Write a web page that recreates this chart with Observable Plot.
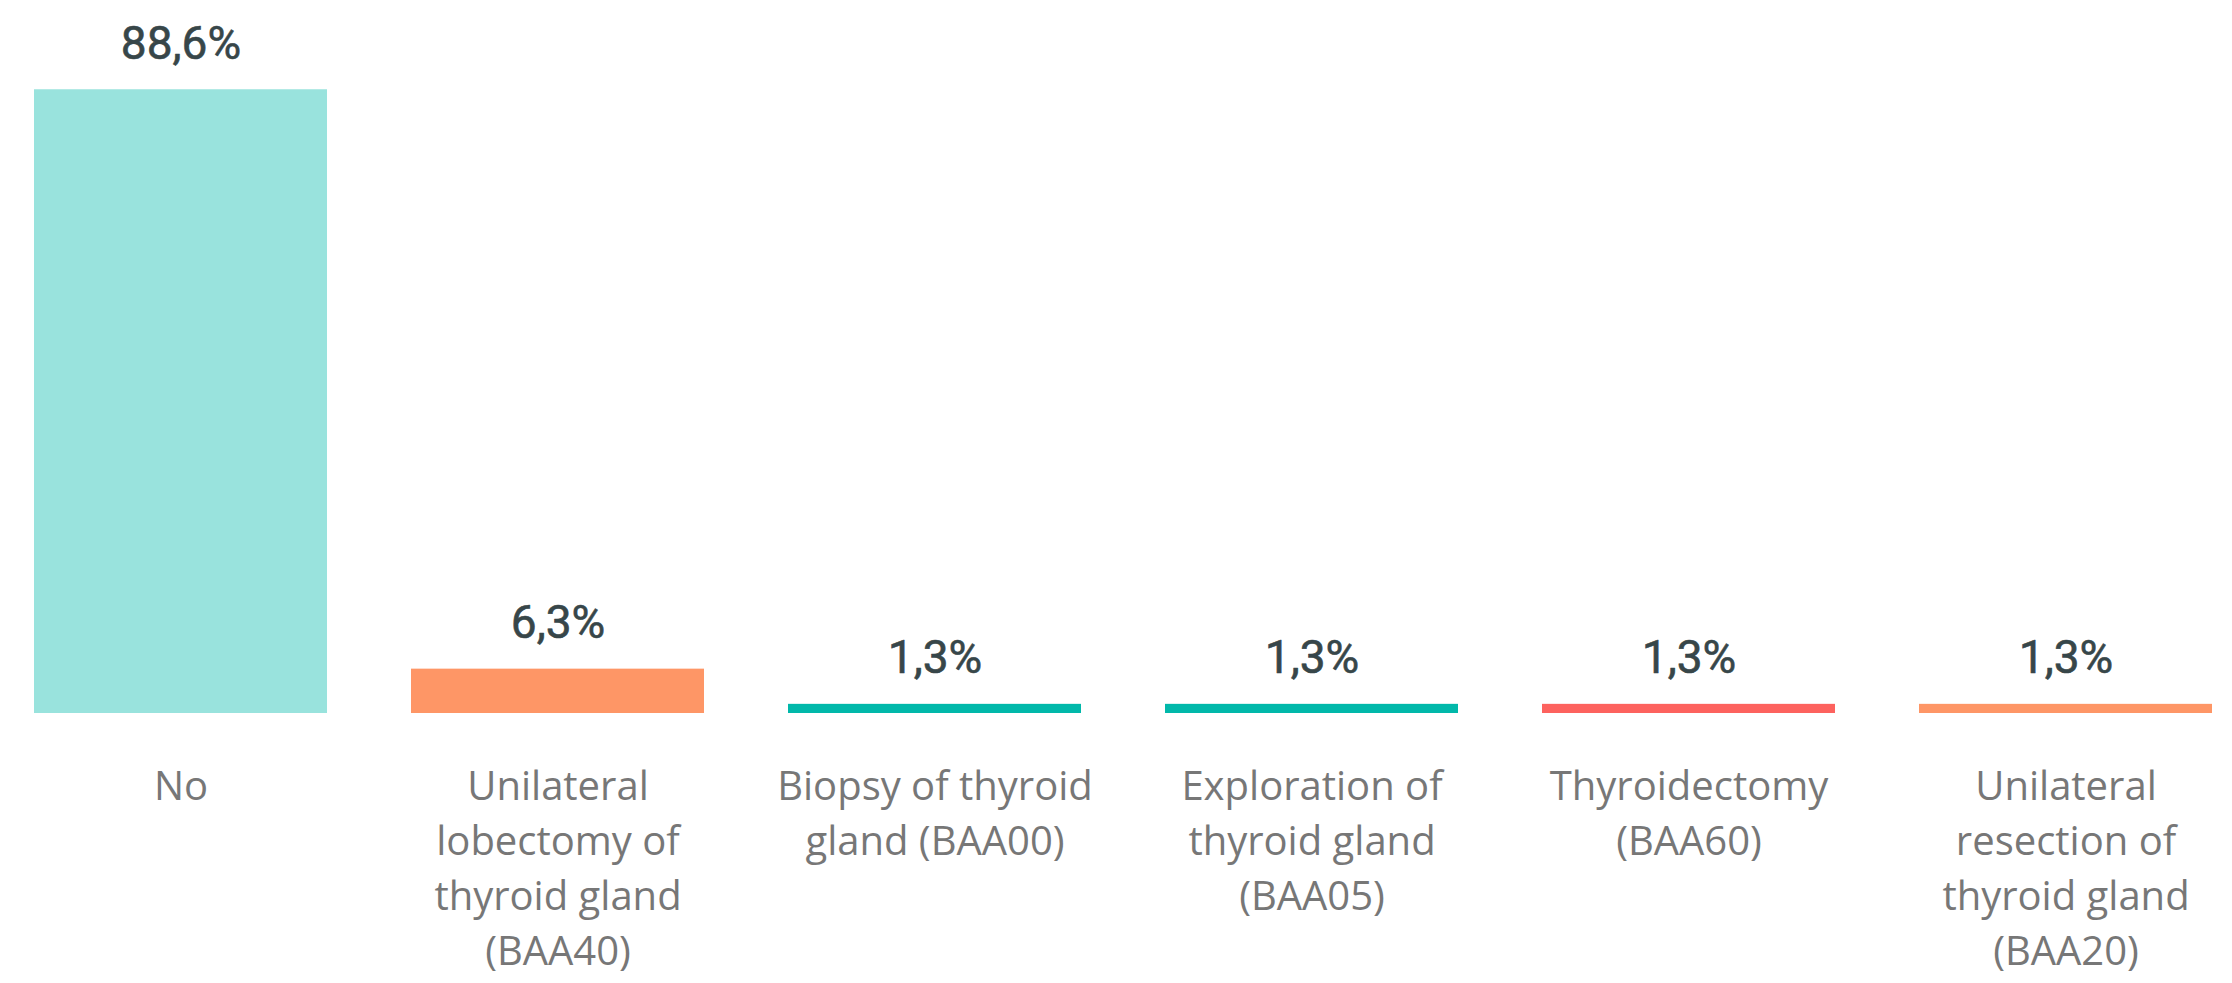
<!DOCTYPE html>
<html>
<head>
<meta charset="utf-8">
<script src="https://cdn.jsdelivr.net/npm/d3@7"></script>
<script src="https://cdn.jsdelivr.net/npm/@observablehq/plot@0.6"></script>
<style>
  html, body { margin: 0; padding: 0; background: #fff; }
</style>
</head>
<body>
<div id="chart"></div>
<script>
const categories = [
  "No",
  "Unilateral lobectomy of thyroid gland (BAA40)",
  "Biopsy of thyroid gland (BAA00)",
  "Exploration of thyroid gland (BAA05)",
  "Thyroidectomy (BAA60)",
  "Unilateral resection of thyroid gland (BAA20)"
];
const tickLabels = [
  "No",
  "Unilateral\nlobectomy of\nthyroid gland\n(BAA40)",
  "Biopsy of thyroid\ngland (BAA00)",
  "Exploration of\nthyroid gland\n(BAA05)",
  "Thyroidectomy\n(BAA60)",
  "Unilateral\nresection of\nthyroid gland\n(BAA20)"
];
const values = [88.6, 6.3, 1.3, 1.3, 1.3, 1.3];
const colors = ["#99E3DD", "#FE9666", "#01B8AA", "#01B8AA", "#FD625E", "#FE9666"];

const data = categories.map((c, i) => ({
  cat: c, label: tickLabels[i], value: values[i], color: colors[i]
}));

const fmt = v => v.toFixed(1).replace(".", ",") + "%";

const chart = Plot.plot({
  width: 2232,
  height: 983,
  marginLeft: 34,
  marginRight: 20,
  marginTop: 9,
  marginBottom: 270,
  x: { domain: categories, paddingInner: 0.223, paddingOuter: 0, axis: null },
  y: { domain: [0, 100], axis: null },
  marks: [
    Plot.barY(data, { x: "cat", y: "value", fill: "color" }),
    Plot.text(data, {
      x: "cat", y: "value", text: d => fmt(d.value),
      lineAnchor: "bottom", dy: -31,
      fontSize: 46, fill: "#374649", stroke: "#374649", strokeWidth: 0.6,
      fontFamily: "Roboto, sans-serif"
    }),
    Plot.text(data, {
      x: "cat", text: "label", frameAnchor: "bottom",
      lineAnchor: "top", dy: 47, lineHeight: 1.375,
      fontSize: 40, fill: "#777777",
      fontFamily: "'Open Sans', sans-serif"
    })
  ]
});
document.getElementById("chart").appendChild(chart);
</script>
</body>
</html>
